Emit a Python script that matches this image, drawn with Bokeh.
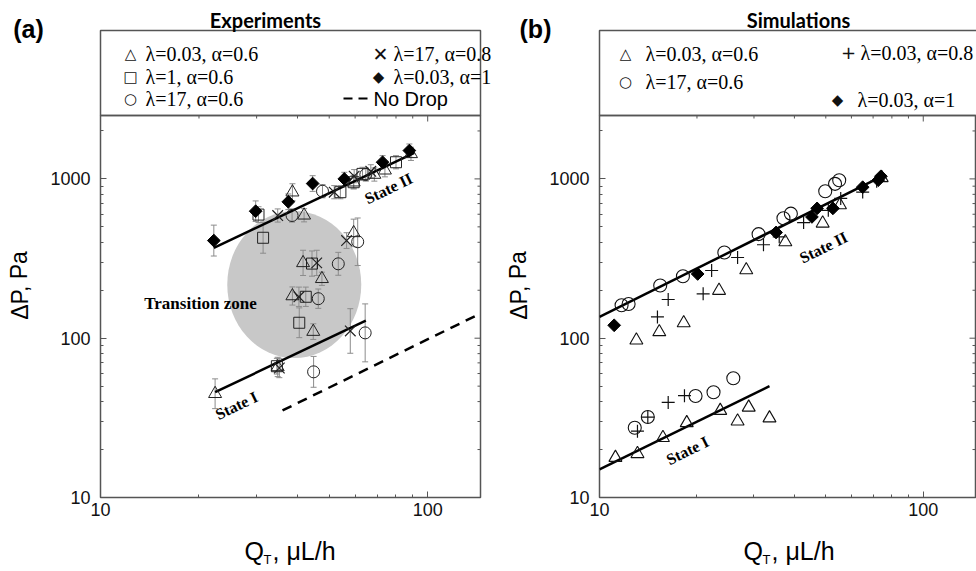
from bokeh.plotting import figure
from bokeh.models import Range1d, LinearScale, FixedTicker, NumeralTickFormatter
from bokeh.layouts import row
from bokeh.embed import file_html
from bokeh.resources import INLINE
from bokeh.core.properties import value

# ---------------- axes ----------------
Q_RANGE = (10, 145)
P_RANGE = (10, 2500)
X_TICKS = [10, 100]
X_MINOR = [20, 30, 40, 50, 60, 70, 80, 90]
Y_TICKS = [10, 100, 1000]
Y_MINOR = [20, 30, 40, 50, 60, 70, 80, 90, 200, 300, 400, 500, 600, 700, 800, 900, 2000]

# ---------------- panel (a): Experiments ----------------
a_tri_q = [22.4, 34.8, 38.6, 41.9, 41.6, 47.5, 38.6, 44.7, 59.4, 59.4, 68.7, 74.0, 88.9]
a_tri_p = [44.8, 66, 825, 591, 297, 236, 184, 110, 458, 953, 1065, 1133, 1436]
a_tri_err = [1.24, 1.15, 1.13, 1.1, 1.2, 1.1, 1.14, 1.12, 1.22, 1.1, 1.1, 1.1, 1.1]

a_sq_q = [30.4, 31.4, 44.3, 42.4, 40.5, 34.6, 54.1, 59.4, 63.2, 80.0]
a_sq_p = [597, 427, 294, 182, 125, 66.7, 825, 953, 1075, 1272]
a_sq_err = [1.12, 1.25, 1.2, 1.15, 1.24, 1.12, 1.1, 1.1, 1.1, 1.1]

a_circ_q = [47.7, 38.5, 53.3, 61.1, 46.3, 64.4, 44.8, 64.7]
a_circ_p = [837, 589, 293, 403, 177, 108, 61.5, 1065]
a_circ_err = [1.1, 1.1, 1.18, 1.41, 1.15, 1.52, 1.25, 1.1]

a_x_q = [34.8, 45.8, 40.4, 35.2, 58.0, 56.5, 51.8, 59.6, 67.0]
a_x_p = [589, 297, 182, 65, 111, 410, 825, 1040, 1116]
a_x_err = [1.1, 1.2, 1.15, 1.15, 1.38, 1.12, 1.1, 1.1, 1.1]

a_dia_q = [22.2, 29.8, 37.5, 44.5, 55.6, 72.8, 87.9]
a_dia_p = [410, 627, 718, 935, 1000, 1272, 1506]
a_dia_err = [1.25, 1.16, 1.12, 1.12, 1.1, 1.1, 1.1]

a_state2_q = [22.2, 91.0]
a_state2_p = [369, 1457]
a_state1_q = [22.4, 64.7]
a_state1_p = [45.8, 129]
a_nodrop_q = [36.0, 145.0]
a_nodrop_p = [35.2, 143]

zone_q = [39.1]
zone_p = [217]

# ---------------- panel (b): Simulations ----------------
b_circ_q = [11.7, 12.3, 15.4, 18.1, 24.3, 31.0, 37.0, 39.0, 49.8, 53.4, 55.0, 12.85, 14.1, 19.8, 22.5, 25.9]
b_circ_p = [161, 164, 214, 245, 345, 450, 566, 605, 837, 931, 981, 27.4, 32, 43.4, 45.8, 56]

b_tri_q = [13.0, 15.3, 18.2, 23.4, 28.4, 37.5, 48.9, 55.3, 74.4, 11.2, 13.1, 15.7, 18.6, 23.6, 26.7, 28.9, 33.5]
b_tri_p = [97, 109.5, 124.6, 199, 268, 402, 526, 685, 1015, 17.8, 18.8, 23.7, 29.4, 35.1, 30.1, 36.8, 31.5]

b_plus_q = [13.1, 14.1, 16.3, 18.3, 15.1, 16.3, 20.9, 22.2, 26.7, 32.1, 35.9, 42.7, 50.9, 55.6, 65.0, 71.8]
b_plus_p = [26.1, 32, 39.5, 43.6, 136, 175, 190, 266, 321, 386, 433, 532, 635, 754, 826, 967]

b_dia_q = [11.1, 20.1, 35.1, 45.3, 47.0, 52.6, 65.0, 72.6, 74.0]
b_dia_p = [120.5, 253, 461, 577, 653, 653, 887, 981, 1039]

b_state2_q = [10.0, 75.3]
b_state2_p = [136, 1049]
b_state1_q = [10.0, 33.5]
b_state1_p = [15.0, 50]

FRAME_H = 382
SERIF = "Liberation Serif"
SANS = "Liberation Sans"
SYM = "DejaVu Sans"
MK = "#222222"
TICK = "#555555"
DIAMOND_ANGLE = 0.785398


def style_axis(ax, ticks, minor, standoff):
    ax.ticker = FixedTicker(ticks=ticks, minor_ticks=minor)
    ax.formatter = NumeralTickFormatter(format="0")
    ax.major_tick_in = 6
    ax.major_tick_out = 0
    ax.minor_tick_in = 3
    ax.minor_tick_out = 0
    ax.major_tick_line_color = TICK
    ax.minor_tick_line_color = TICK
    ax.axis_line_color = None
    ax.major_label_text_font = SANS
    ax.major_label_text_color = "#111111"
    ax.major_label_text_font_size = "18px"
    ax.major_label_standoff = standoff


def make_fig(frame_w, border_r):
    p = figure(width=100 + frame_w + border_r, height=570,
               x_axis_type="log", y_axis_type="log",
               x_range=Range1d(*Q_RANGE), y_range=Range1d(*P_RANGE),
               min_border_left=100, min_border_right=border_r,
               min_border_top=115, min_border_bottom=73,
               output_backend="svg", toolbar_location=None)
    p.extra_x_ranges = {"px": Range1d(0, frame_w)}
    p.extra_y_ranges = {"px": Range1d(FRAME_H, 0)}
    p.extra_x_scales = {"px": LinearScale()}
    p.extra_y_scales = {"px": LinearScale()}
    p.grid.visible = False
    p.outline_line_color = "#555555"
    p.outline_line_width = 1.5
    p.background_fill_color = "white"
    p.border_fill_color = "white"
    style_axis(p.xaxis[0], X_TICKS, X_MINOR, 5)
    style_axis(p.yaxis[0], Y_TICKS, Y_MINOR, 10)
    # inward ticks on the top and right edges of the frame
    n = len(X_TICKS)
    p.segment(x0=X_TICKS, y0=[0] * n, x1=X_TICKS, y1=[6] * n, line_color=TICK,
              line_width=1, y_range_name="px")
    n = len(X_MINOR)
    p.segment(x0=X_MINOR, y0=[0] * n, x1=X_MINOR, y1=[3] * n, line_color=TICK,
              line_width=1, y_range_name="px")
    n = len(Y_TICKS)
    p.segment(x0=[frame_w - 6] * n, y0=Y_TICKS, x1=[frame_w] * n, y1=Y_TICKS,
              line_color=TICK, line_width=1, x_range_name="px")
    n = len(Y_MINOR)
    p.segment(x0=[frame_w - 3] * n, y0=Y_MINOR, x1=[frame_w] * n, y1=Y_MINOR,
              line_color=TICK, line_width=1, x_range_name="px")
    return p


def txt(p, x, y, s, font=SERIF, size="20px", style="normal", align="left",
        baseline="middle", angle=0.0, color="#000000"):
    p.text(x=[x], y=[y], text=[s], x_range_name="px", y_range_name="px",
           text_font=value(font), text_font_size=size, text_font_style=style,
           text_align=align, text_baseline=baseline, angle=angle,
           text_color=color, level="overlay")


def sym(p, x, y, s, size="15px", color="#111111"):
    txt(p, x, y, s, font=SYM, size=size, align="center", color=color)


def axis_titles(p):
    txt(p, -81, 170, "\u0394P, Pa", font=SANS, size="23px", align="center", angle=1.5708)
    txt(p, 144, 435, "Q", font=SANS, size="25px")
    txt(p, 163, 444, "T", font=SANS, size="13px")
    txt(p, 172, 435, ", \u03bcL/h", font=SANS, size="25px")


def err_bars(p, q, pv, err):
    lo = [v / f for v, f in zip(pv, err)]
    hi = [v * f for v, f in zip(pv, err)]
    p.segment(x0=q, y0=lo, x1=q, y1=hi, line_color="#8c8c8c", line_width=1)
    p.scatter(x=q + q, y=lo + hi, marker="dash", size=6, line_color="#8c8c8c", line_width=1)


# ================= panel (a) =================
pa = make_fig(380, 19)
pa.ellipse(x=zone_q, y=zone_p, width=134, height=147, width_units="screen",
           height_units="screen", fill_color="#c8c8c8", line_color=None)
err_bars(pa, a_tri_q, a_tri_p, a_tri_err)
err_bars(pa, a_sq_q, a_sq_p, a_sq_err)
err_bars(pa, a_circ_q, a_circ_p, a_circ_err)
err_bars(pa, a_x_q, a_x_p, a_x_err)
err_bars(pa, a_dia_q, a_dia_p, a_dia_err)
pa.line(a_state2_q, a_state2_p, line_color="black", line_width=2.5)
pa.line(a_state1_q, a_state1_p, line_color="black", line_width=2.5)
pa.line(a_nodrop_q, a_nodrop_p, line_color="black", line_width=2.5, line_dash="10 7")
pa.scatter(a_tri_q, a_tri_p, marker="triangle", size=13, line_color=MK, fill_color=None, line_width=1)
pa.scatter(a_sq_q, a_sq_p, marker="square", size=11, line_color=MK, fill_color=None, line_width=1)
pa.scatter(a_circ_q, a_circ_p, marker="circle", size=12, line_color=MK, fill_color=None, line_width=1)
pa.scatter(a_x_q, a_x_p, marker="x", size=15, line_color=MK, line_width=1.2)
pa.scatter(a_dia_q, a_dia_p, marker="square", angle=DIAMOND_ANGLE, size=9, line_color="black", fill_color="black")

txt(pa, 100, 188, "Transition zone", size="17px", style="bold", align="center")
txt(pa, 288, 73, "State II", size="16px", style="bold", align="center", angle=0.45)
txt(pa, 136, 290, "State I", size="16px", style="bold", align="center", angle=0.45)

# legend box (a)
pa.quad(left=[0], right=[380], top=[-85], bottom=[0], fill_color=None,
        line_color="#555555", line_width=1.5, x_range_name="px", y_range_name="px", level="overlay")
txt(pa, 165, -96, "Experiments", font="Lato", size="20px", style="bold", align="center")
txt(pa, -72, -87, "(a)", font=SANS, size="25px", style="bold", align="center")
sym(pa, 30, -62, "\u25b3")
sym(pa, 30, -39, "\u25a1")
sym(pa, 30, -17, "\u25cb")
sym(pa, 280, -62, "\u2715", size="19px")
sym(pa, 278, -39, "\u25c6", size="15px")
pa.line(x=[243, 267], y=[-17, -17], line_color="black", line_width=2, line_dash="9 6",
        x_range_name="px", y_range_name="px", level="overlay")
txt(pa, 45, -62, "\u03bb=0.03, \u03b1=0.6")
txt(pa, 45, -39, "\u03bb=1, \u03b1=0.6")
txt(pa, 45, -17, "\u03bb=17, \u03b1=0.6")
txt(pa, 293, -62, "\u03bb=17, \u03b1=0.8")
txt(pa, 293, -39, "\u03bb=0.03, \u03b1=1")
txt(pa, 273, -17, "No Drop", font=SANS)
axis_titles(pa)

# ================= panel (b) =================
pb = make_fig(376, 1)
pb.line(b_state2_q, b_state2_p, line_color="black", line_width=2.5)
pb.line(b_state1_q, b_state1_p, line_color="black", line_width=2.5)
pb.scatter(b_tri_q, b_tri_p, marker="triangle", size=13, line_color="#111111", fill_color=None, line_width=1.1)
pb.scatter(b_circ_q, b_circ_p, marker="circle", size=13, line_color="#111111", fill_color=None, line_width=1.1)
pb.scatter(b_plus_q, b_plus_p, marker="cross", size=13, line_color="#111111", line_width=1.2)
pb.scatter(b_dia_q, b_dia_p, marker="square", angle=DIAMOND_ANGLE, size=9, line_color="black", fill_color="black")

txt(pb, 224, 132, "State II", size="16px", style="bold", align="center", angle=0.46)
txt(pb, 88, 335, "State I", size="16px", style="bold", align="center", angle=0.46)

pb.quad(left=[0], right=[380], top=[-85], bottom=[0], fill_color=None,
        line_color="#555555", line_width=1.5, x_range_name="px", y_range_name="px", level="overlay")
txt(pb, 199, -96, "Simulations", font="Lato", size="20px", style="bold", align="center")
txt(pb, -64, -87, "(b)", font=SANS, size="25px", style="bold", align="center")
sym(pb, 26, -62, "\u25b3")
sym(pb, 26, -34, "\u25cb")
sym(pb, 249, -63, "+", size="18px")
sym(pb, 238, -16, "\u25c6", size="15px")
txt(pb, 46, -62, "\u03bb=0.03, \u03b1=0.6")
txt(pb, 46, -34, "\u03bb=17, \u03b1=0.6")
txt(pb, 261, -63, "\u03bb=0.03, \u03b1=0.8")
txt(pb, 258, -16, "\u03bb=0.03, \u03b1=1")
axis_titles(pb)

layout = row(pa, pb)
open("out.html", "w").write(file_html(layout, INLINE))
